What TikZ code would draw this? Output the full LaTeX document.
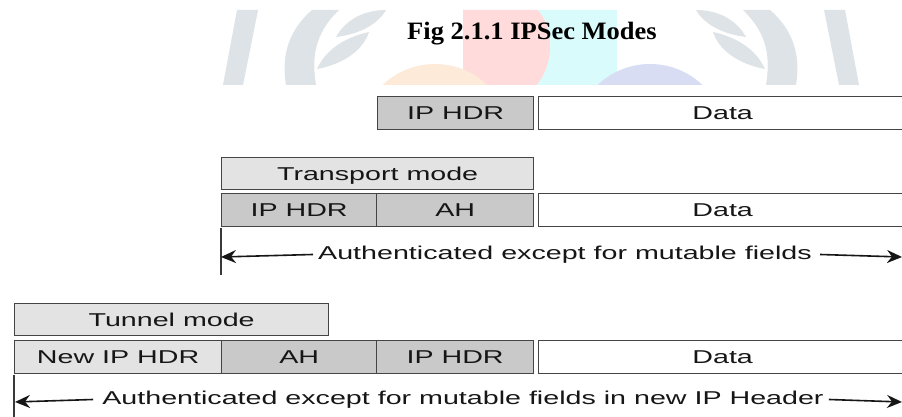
\documentclass[tikz,border=0pt]{standalone}
\usepackage{fontspec}
\setmainfont{Liberation Serif}
\setsansfont{Liberation Sans}
\newfontfamily\fieldfont[FakeStretch=1.54]{Liberation Sans}
\newfontfamily\captionfont[FakeStretch=1.06]{Liberation Serif}
\usetikzlibrary{arrows.meta}

% watermark tints
\definecolor{wmgray}{HTML}{DDE3E6}
\definecolor{wmpink}{HTML}{FFDBDB}
\definecolor{wmcyan}{HTML}{D9FBFB}
\definecolor{wmblue}{HTML}{D8DDF4}
\definecolor{wmorange}{HTML}{FDEAD8}
% packet fields
\definecolor{hdrfill}{HTML}{C9C9C9}
\definecolor{modefill}{HTML}{E3E3E3}
\definecolor{edge}{HTML}{454545}
\definecolor{ink}{HTML}{161616}

% one half of the laurel emblem
\newcommand{\laurelHalf}{%
  \fill[wmgray] (237,10) -- (258,10) -- (243,85) -- (223,85) -- cycle;
  \fill[wmgray] (312,10) -- (339,10) .. controls (313,35) and (312,60) .. (316,85)
     -- (286,85) .. controls (281,55) and (289,30) .. (312,10) -- cycle;
  \fill[wmgray] (336,37) .. controls (346,19) and (365,10) .. (386,10)
     .. controls (378,24) and (360,34) .. (336,37) -- cycle;
  \fill[wmgray] (317,69) .. controls (326,49) and (346,37) .. (369,32)
     .. controls (363,50) and (344,64) .. (317,69) -- cycle;
}

\tikzset{
  field/.style={draw=edge, line width=1.3pt, anchor=north west, inner sep=0pt,
    text=ink, font=\fieldfont\fontsize{18.6}{20}\selectfont,
    text height=13.3pt, text depth=0pt, minimum height=33pt},
  hdr/.style={field, fill=hdrfill},
  modebox/.style={field, fill=modefill, minimum height=32pt},
  datafield/.style={field, fill=white, minimum width=368pt},
  note/.style={inner xsep=5pt, inner ysep=0pt, anchor=mid, text=ink,
    font=\fieldfont\fontsize{18.6}{20}\selectfont},
  span/.style={line width=1.6pt, draw=ink,
    -{Stealth[length=15pt, width=13pt, inset=5pt]}},
  bar/.style={line width=1.6pt, draw=ink!85},
  caption/.style={anchor=base, text=black,
    font=\captionfont\bfseries\fontsize{25}{28}\selectfont}
}

\begin{document}
\begin{tikzpicture}[x=1pt, y=-1pt]
\useasboundingbox (0,0) rectangle (902,417);
\fill[white] (0,0) rectangle (902,417);

% emblem behind the caption
\begin{scope}
  \clip (0,10) rectangle (902,85);
  \fill[wmpink] (463,10) -- (538,10) .. controls (552,25) and (557,60) .. (537,85)
     -- (463,85) -- cycle;
  \fill[wmcyan] (538,10) -- (617,10) -- (617,85) -- (537,85)
     .. controls (557,60) and (552,25) .. (538,10) -- cycle;
  \fill[wmorange] (435,140) circle (76pt);
  \fill[wmblue] (650,140) circle (76pt);
  \laurelHalf
  \begin{scope}[shift={(1082,0)}, xscale=-1]
    \laurelHalf
  \end{scope}
\end{scope}

\node[caption] (title) at (532,40) {Fig 2.1.1 IPSec Modes};

% original datagram
\node[hdr, minimum width=156pt] (ipA) at (377,96) {IP HDR};
\node[datafield] (dataA) at (538,96) {Data};

% transport mode
\node[modebox, minimum width=312pt] (transport) at (221,157) {Transport mode};
\node[hdr, minimum width=155pt] (ipB) at (221,193) {IP HDR};
\node[hdr, minimum width=157pt] (ahB) at (376,193) {AH};
\node[datafield] (dataB) at (538,193) {Data};

\coordinate (barBtop) at (221,228);
\coordinate (barBbot) at (221,275);
\draw[bar] (barBtop) -- (barBbot);
\node[note] (noteB) at (565,257) {Authenticated except for mutable fields};
\coordinate (leftB) at (221,257);
\coordinate (rightB) at (902,257);
\draw[span] (noteB.west) -- (leftB);
\draw[span] ([xshift=3pt]noteB.east) -- (rightB);

% tunnel mode
\node[modebox, minimum width=314pt] (tunnel) at (14,303) {Tunnel mode};
\node[field, fill=modefill, minimum width=207pt] (nipC) at (14,340) {New IP HDR};
\node[hdr, minimum width=155pt] (ahC) at (221,340) {AH};
\node[hdr, minimum width=157pt] (ipC) at (376,340) {IP HDR};
\node[datafield] (dataC) at (538,340) {Data};

\coordinate (barCtop) at (14,375);
\coordinate (barCbot) at (14,420);
\draw[bar] (barCtop) -- (barCbot);
\node[note] (noteC) at (463,402) {Authenticated except for mutable fields in new IP Header};
\coordinate (leftC) at (15,402);
\coordinate (rightC) at (902,402);
\draw[span] ([xshift=-4pt]noteC.west) -- (leftC);
\draw[span] (noteC.east) -- (rightC);
\end{tikzpicture}
\end{document}
